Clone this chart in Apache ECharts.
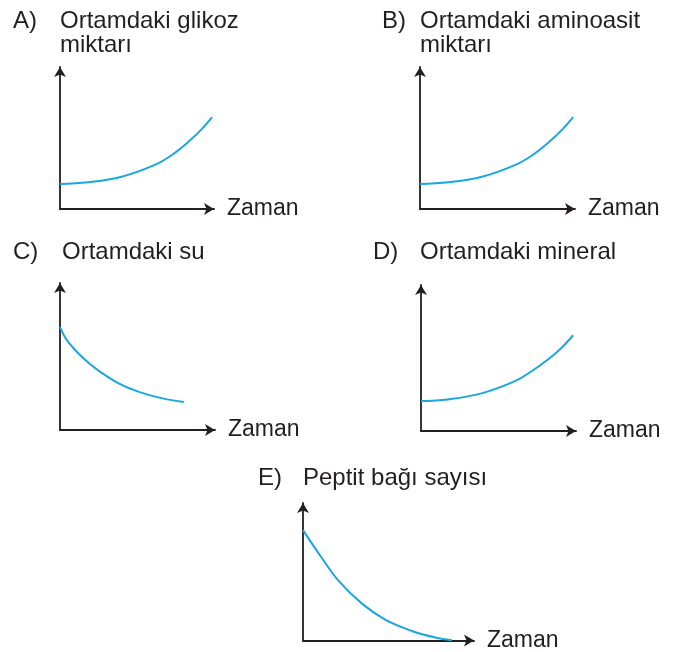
<!DOCTYPE html>
<html>
<head>
<meta charset="utf-8">
<script src="https://cdn.jsdelivr.net/npm/echarts@6/dist/echarts.min.js"></script>
<style>
  html, body { margin: 0; padding: 0; background: #fff; }
  #chart { width: 679px; height: 652px; }
</style>
</head>
<body>
<div id="chart"></div>
<script>
// time (x) and amount (y), 0..10 scale
const glikozX = [0, 1.78, 3.88, 5.97, 7.02, 8.07, 8.91, 9.58]
const glikozY = [1.7, 1.82, 2.2, 3.01, 3.67, 4.57, 5.44, 6.28]

const aminoasitX = [0, 1.78, 3.88, 5.97, 7.02, 8.07, 8.91, 9.58]
const aminoasitY = [1.7, 1.82, 2.2, 3.01, 3.67, 4.57, 5.44, 6.28]

const suX = [0, 0.45, 1.45, 2.5, 3.55, 4.6, 5.6, 6.7, 7.75]
const suY = [6.8, 5.9, 4.75, 3.85, 3.15, 2.65, 2.3, 2.02, 1.84]

const mineralX = [0, 1.69, 3.79, 5.88, 6.92, 7.94, 8.79, 9.52]
const mineralY = [1.99, 2.1, 2.5, 3.31, 3.97, 4.75, 5.52, 6.36]

const peptitX = [0, 1.06, 2.01, 3.33, 4.66, 6.18, 7.5, 8.45]
const peptitY = [7.79, 5.84, 4.23, 2.62, 1.47, 0.67, 0.21, 0.02]

const xName = 'Zaman'
const panels = [
  { letter: 'A)', title: 'Ortamdaki glikoz\nmiktarı', x: glikozX, y: glikozY },
  { letter: 'B)', title: 'Ortamdaki aminoasit\nmiktarı', x: aminoasitX, y: aminoasitY },
  { letter: 'C)', title: 'Ortamdaki su', x: suX, y: suY },
  { letter: 'D)', title: 'Ortamdaki mineral', x: mineralX, y: mineralY },
  { letter: 'E)', title: 'Peptit bağı sayısı', x: peptitX, y: peptitY }
]

// layout of each small sketch
const boxes = [
  { left: 60, top: 67, width: 154, height: 142, letterX: 13, titleX: 60, titleY: 9 },
  { left: 420, top: 67, width: 155, height: 142, letterX: 382, titleX: 420, titleY: 9 },
  { left: 60, top: 283, width: 155, height: 147, letterX: 13, titleX: 62, titleY: 240 },
  { left: 421, top: 285, width: 155, height: 146, letterX: 373, titleX: 420, titleY: 240 },
  { left: 303, top: 503, width: 171, height: 140, letterX: 258, titleX: 303, titleY: 466 }
]

const ink = '#231f20'
const font = 'Liberation Sans, Arial, sans-serif'

const chart = echarts.init(document.getElementById('chart'))

const axisLine = {
  show: true,
  onZero: false,
  symbol: ['none', 'arrow'],
  symbolSize: [9, 10],
  lineStyle: { color: ink, width: 1.8 }
}

const title = []
const grid = []
const xAxis = []
const yAxis = []
const series = []

panels.forEach((p, i) => {
  const b = boxes[i]
  title.push({
    text: p.letter, left: b.letterX, top: b.titleY, padding: 0,
    textStyle: { color: ink, fontSize: 24, fontWeight: 'normal', fontFamily: font, lineHeight: 24 }
  })
  title.push({
    text: p.title, left: b.titleX, top: b.titleY, padding: 0,
    textStyle: { color: ink, fontSize: 24, fontWeight: 'normal', fontFamily: font, lineHeight: 24 }
  })
  grid.push({ left: b.left, top: b.top, width: b.width, height: b.height })
  xAxis.push({
    type: 'value', gridIndex: i, min: 0, max: 9.7,
    name: xName, nameLocation: 'end', nameGap: 13,
    nameTextStyle: { color: ink, fontSize: 23, fontFamily: font },
    axisLine: axisLine,
    axisTick: { show: false },
    axisLabel: { show: false },
    splitLine: { show: false }
  })
  yAxis.push({
    type: 'value', gridIndex: i, min: 0, max: 9.7,
    axisLine: axisLine,
    axisTick: { show: false },
    axisLabel: { show: false },
    splitLine: { show: false }
  })
  series.push({
    type: 'line',
    xAxisIndex: i,
    yAxisIndex: i,
    smooth: 0.4,
    showSymbol: false,
    silent: true,
    lineStyle: { color: '#1aa6e0', width: 2 },
    data: p.x.map((v, k) => [v, p.y[k]])
  })
})

chart.setOption({
  animation: false,
  backgroundColor: '#fff',
  title,
  grid,
  xAxis,
  yAxis,
  series
})
</script>
</body>
</html>
